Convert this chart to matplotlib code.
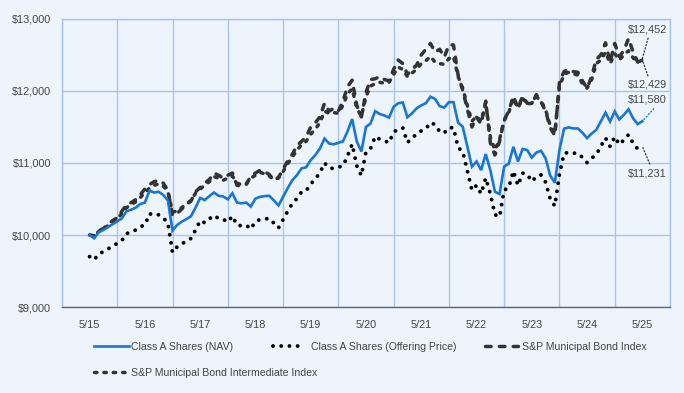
import matplotlib
matplotlib.use("Agg")
import matplotlib.pyplot as plt
from matplotlib.ticker import FuncFormatter

plt.rcParams['font.family'] = ['Liberation Sans', 'DejaVu Sans']

# monthly values, 5/15 .. 5/25 (121 months)
nav = [10000, 9955, 10040, 10070, 10110, 10150, 10190, 10230, 10330, 10350,
       10380, 10430, 10450, 10615, 10590, 10600, 10555, 10480, 10060, 10140,
       10185, 10220, 10260, 10380, 10515, 10485, 10540, 10590, 10545, 10535,
       10495, 10580, 10450, 10440, 10450, 10395, 10505, 10530, 10540, 10545,
       10480, 10410, 10530, 10650, 10760, 10830, 10925, 10940, 11040, 11110,
       11200, 11340, 11270, 11260, 11280, 11300, 11440, 11610, 11300, 11160,
       11500, 11550, 11720, 11680, 11660, 11630, 11780, 11830, 11840, 11635,
       11690, 11760, 11800, 11830, 11920, 11890, 11790, 11770, 11845, 11845,
       11560, 11505, 11230, 10950, 11020, 10900, 11125, 10900, 10600, 10570,
       10950, 10990, 11225, 11020, 11195, 11180, 11075, 11145, 11170, 11065,
       10825, 10725, 11180, 11475, 11495, 11480, 11480, 11420, 11345, 11410,
       11460, 11580, 11700, 11575, 11715, 11605, 11670, 11745, 11620, 11540,
       11580]

offer = [9700, 9656, 9739, 9768, 9807, 9846, 9884, 9923, 10020, 10040,
         10069, 10117, 10137, 10297, 10272, 10282, 10238, 10166, 9758, 9836,
         9879, 9913, 9952, 10069, 10200, 10170, 10224, 10272, 10229, 10219,
         10180, 10263, 10137, 10127, 10137, 10083, 10190, 10214, 10224, 10229,
         10166, 10098, 10214, 10331, 10437, 10505, 10597, 10612, 10709, 10777,
         10864, 11000, 10932, 10922, 10942, 10961, 11097, 11262, 10961, 10825,
         11155, 11204, 11368, 11330, 11310, 11281, 11427, 11475, 11485, 11286,
         11339, 11407, 11446, 11475, 11562, 11533, 11436, 11417, 11490, 11490,
         11213, 11160, 10893, 10622, 10689, 10573, 10791, 10573, 10282, 10253,
         10622, 10660, 10888, 10689, 10859, 10845, 10743, 10811, 10835, 10733,
         10500, 10403, 10845, 11131, 11150, 11136, 11136, 11077, 11005, 11068,
         11116, 11233, 11349, 11228, 11364, 11257, 11320, 11393, 11271, 11194,
         11231]

muni = [10000, 9980, 10060, 10090, 10150, 10200, 10240, 10330, 10420, 10450,
        10490, 10560, 10640, 10700, 10740, 10760, 10720, 10620, 10270, 10300,
        10360, 10420, 10470, 10600, 10660, 10720, 10770, 10860, 10830, 10790,
        10830, 10860, 10690, 10680, 10700, 10820, 10860, 10900, 10880, 10840,
        10760, 10800, 10910, 11030, 11120, 11240, 11300, 11360, 11500, 11560,
        11640, 11830, 11720, 11760, 11720, 11860, 12060, 12150, 11800, 11640,
        11980, 12160, 12170, 12200, 12160, 12140, 12300, 12430, 12380, 12230,
        12300, 12360, 12500, 12580, 12660, 12540, 12580, 12470, 12640, 12640,
        12220, 12010, 11750, 11500, 11640, 11540, 11860, 11280, 11110, 11300,
        11600, 11720, 11930, 11760, 11930, 11830, 11820, 11950, 11850, 11720,
        11490, 11380, 12120, 12270, 12300, 12270, 12260, 12140, 12040, 12200,
        12440, 12500, 12670, 12400, 12660, 12480, 12560, 12730, 12540, 12400,
        12452]

inter = [10000, 9990, 10050, 10080, 10130, 10180, 10220, 10300, 10380, 10420,
         10460, 10520, 10590, 10650, 10690, 10710, 10680, 10600, 10320, 10330,
         10380, 10430, 10480, 10580, 10640, 10690, 10740, 10810, 10790, 10760,
         10790, 10820, 10720, 10700, 10710, 10790, 10830, 10870, 10850, 10820,
         10770, 10790, 10880, 10990, 11080, 11180, 11250, 11300, 11400, 11470,
         11560, 11720, 11690, 11700, 11690, 11800, 11960, 12030, 11760, 11650,
         11920, 12070, 12100, 12120, 12110, 12120, 12230, 12330, 12300, 12200,
         12250, 12300, 12380, 12420, 12480, 12400, 12380, 12370, 12450, 12480,
         12200, 12040, 11800, 11580, 11650, 11580, 11840, 11360, 11180, 11330,
         11590, 11700, 11900, 11760, 11900, 11820, 11830, 11920, 11860, 11740,
         11520, 11420, 12060, 12230, 12260, 12240, 12220, 12100, 12040, 12160,
         12380, 12430, 12540, 12380, 12520, 12430, 12500, 12560, 12460, 12400,
         12429]

tick_labels = ['5/15', '5/16', '5/17', '5/18', '5/19', '5/20',
               '5/21', '5/22', '5/23', '5/24', '5/25']
end_labels = ['$12,452', '$12,429', '$11,580', '$11,231']

months = list(range(len(nav)))

bg = '#EEF4FC'
grid_c = '#A9C4EE'
txt_c = '#444444'
blue = '#1976D2'
dark = '#333333'

fig = plt.figure(figsize=(6.84, 3.93), dpi=100, facecolor=bg)
ax = fig.add_axes([0.0906, 0.2188, 0.8889, 0.7329], facecolor=bg)

ax.plot(months, muni, color=dark, lw=2.5, linestyle=(0, (1.6, 2.4)),
        dash_capstyle='round', label='S&P Municipal Bond Index', zorder=3)
ax.plot(months, inter, color=dark, lw=2.5, linestyle=(0, (0.7, 2.0)),
        dash_capstyle='round', label='S&P Municipal Bond Intermediate Index', zorder=3)
ax.plot(months, offer, color='black', lw=2.8, linestyle=(0, (0.01, 2.1)),
        dash_capstyle='round', label='Class A Shares (Offering Price)', zorder=4)
ax.plot(months, nav, color=blue, lw=1.9, solid_joinstyle='miter',
        label='Class A Shares (NAV)', zorder=5)

ax.set_xlim(-6, 126)
ax.set_ylim(9000, 13000)
ax.set_yticks([9000, 10000, 11000, 12000, 13000])
ax.yaxis.set_major_formatter(FuncFormatter(lambda v, p: '${:,.0f}'.format(v)))
ax.set_xticks(list(range(0, 121, 12)))
ax.set_xticklabels(tick_labels)
ax.set_xticks(list(range(-6, 127, 12)), minor=True)
ax.tick_params(which='both', length=0, colors=txt_c, labelsize=7.8)
ax.tick_params(axis='y', pad=8)
ax.tick_params(axis='x', pad=9)
ax.grid(True, which='minor', axis='x', color=grid_c, lw=1)
ax.grid(True, which='major', axis='y', color=grid_c, lw=1)
for s in ['left', 'right', 'top']:
    ax.spines[s].set_color(grid_c)
    ax.spines[s].set_linewidth(1)
ax.spines['bottom'].set_color('#666666')
ax.spines['bottom'].set_linewidth(1)

# end value labels with dotted leaders
ends = [(muni[-1], 0.965, (0.55, 0), dark),
        (inter[-1], 0.771, (0.55, 1), dark),
        (nav[-1], 0.719, (0.75, 0), blue),
        (offer[-1], 0.465, (0.6, 1), dark)]
for lab, (v, ty, rp, c) in zip(end_labels, ends):
    ax.annotate(lab, xy=(months[-1], v), xycoords='data',
                xytext=(0.995, ty), textcoords='axes fraction',
                ha='right', va='center', fontsize=7.8, color=txt_c,
                arrowprops=dict(arrowstyle='-', linestyle=':', color=c,
                                lw=0.9, relpos=rp, shrinkA=1, shrinkB=0))

# legend entries placed one by one (flow layout like the original)
h = {l.get_label(): l for l in ax.get_lines()}
entries = [('Class A Shares (NAV)', 0.1374, 0.117, 3.3, 0.2),
           ('Class A Shares (Offering Price)', 0.399, 0.117, 2.7, 0.9),
           ('S&P Municipal Bond Index', 0.709, 0.117, 3.1, 0.45),
           ('S&P Municipal Bond Intermediate Index', 0.1374, 0.051, 3.3, 0.2)]
for name, lx, ly, hl, tp in entries:
    fig.legend([h[name]], [name], loc='center left', bbox_to_anchor=(lx, ly),
               frameon=False, fontsize=7.6, labelcolor=txt_c, handlelength=hl,
               handletextpad=tp, borderpad=0, borderaxespad=0)

fig.savefig('out.png', dpi=100, facecolor=bg)
